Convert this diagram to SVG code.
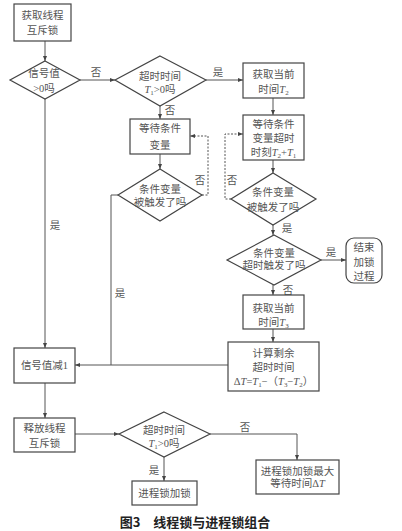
<svg xmlns="http://www.w3.org/2000/svg" width="402" height="531" viewBox="0 0 402 531">
<style>
.b{fill:#fff;stroke:#444;stroke-width:1.2}
.t{font-family:"Liberation Serif","Noto Sans CJK SC",serif;font-size:10.5px;fill:#555;text-anchor:middle}
.l{fill:none;stroke:#555;stroke-width:1}
.d{fill:none;stroke:#555;stroke-width:1;stroke-dasharray:2,1.5}
.i{font-style:italic}
.s{font-size:7px}
.cap{font-family:"Noto Sans CJK SC",sans-serif;font-size:13px;fill:#222;font-weight:bold;text-anchor:middle}
</style>
<defs>
<marker id="a" markerWidth="6" markerHeight="6" refX="5" refY="3" orient="auto" markerUnits="userSpaceOnUse">
<path d="M0,1 L5,3 L0,5 Z" fill="#444"/>
</marker>
</defs>
<rect width="402" height="531" fill="#fff"/>
<g id="connectors">
<line class="l" x1="45" y1="41" x2="45" y2="61" marker-end="url(#a)"/>
<line class="l" x1="80" y1="80" x2="115" y2="80" marker-end="url(#a)"/>
<line class="l" x1="206" y1="80" x2="243" y2="80" marker-end="url(#a)"/>
<line class="l" x1="273" y1="98" x2="273" y2="115" marker-end="url(#a)"/>
<line class="l" x1="160" y1="106" x2="160" y2="119" marker-end="url(#a)"/>
<line class="l" x1="160" y1="154" x2="160" y2="169" marker-end="url(#a)"/>
<polyline class="d" points="202,195 208,195 208,136 190,136" marker-end="url(#a)"/>
<polyline class="l" points="118,195 111,195 111,365"/>
<polyline class="d" points="231,199 225,199 225,134 243,134" marker-end="url(#a)"/>
<line class="l" x1="273" y1="160" x2="273" y2="173" marker-end="url(#a)"/>
<line class="l" x1="273" y1="225" x2="273" y2="235" marker-end="url(#a)"/>
<line class="l" x1="321" y1="260" x2="346" y2="260" marker-end="url(#a)"/>
<line class="l" x1="273" y1="285" x2="273" y2="295" marker-end="url(#a)"/>
<line class="l" x1="273" y1="329" x2="273" y2="342" marker-end="url(#a)"/>
<line class="l" x1="228" y1="365" x2="75" y2="365" marker-end="url(#a)"/>
<line class="l" x1="45" y1="99" x2="45" y2="348" marker-end="url(#a)"/>
<line class="l" x1="45" y1="383" x2="45" y2="418" marker-end="url(#a)"/>
<line class="l" x1="75" y1="434" x2="119" y2="434" marker-end="url(#a)"/>
<line class="l" x1="164" y1="457" x2="164" y2="481" marker-end="url(#a)"/>
<polyline class="l" points="210,434 297,434 297,460" marker-end="url(#a)"/>
<text class="t" x="96" y="76">否</text>
<text class="t" x="218" y="76">是</text>
<text class="t" x="170" y="114">否</text>
<text class="t" x="200" y="184">否</text>
<text class="t" x="232" y="184">否</text>
<text class="t" x="120" y="297">是</text>
<text class="t" x="287" y="232">是</text>
<text class="t" x="331" y="256">是</text>
<text class="t" x="288" y="294">否</text>
<text class="t" x="55" y="229">是</text>
<text class="t" x="154" y="474">是</text>
<text class="t" x="245" y="431">否</text>
</g>
<g id="n1"><rect class="b" x="14" y="4" width="57" height="37"/><text class="t" x="42.5" y="19">获取线程</text><text class="t" x="42.5" y="34">互斥锁</text></g>
<g id="d1"><polygon class="b" points="45,61 80,80 45,99 10,80"/><text class="t" x="44" y="77">信号值</text><text class="t" x="44" y="92">&gt;0吗</text></g>
<g id="d2"><polygon class="b" points="160,56 206,80 160,106 115,80"/><text class="t" x="160" y="80">超时时间</text><text class="t" x="160" y="93"><tspan class="i">T</tspan><tspan class="s" dy="2">1</tspan><tspan dy="-2">&gt;0吗</tspan></text></g>
<g id="n2"><rect class="b" x="243" y="63" width="61" height="35"/><text class="t" x="273.5" y="78">获取当前</text><text class="t" x="273.5" y="93">时间<tspan class="i">T</tspan><tspan class="s" dy="2">2</tspan></text></g>
<g id="n3"><rect class="b" x="243" y="115" width="61" height="45"/><text class="t" x="273.5" y="128">等待条件</text><text class="t" x="273.5" y="142">变量超时</text><text class="t" x="273.5" y="156">时刻<tspan class="i">T</tspan><tspan class="s" dy="2">2</tspan><tspan dy="-2">+</tspan><tspan class="i">T</tspan><tspan class="s" dy="2">1</tspan></text></g>
<g id="n4"><rect class="b" x="130" y="119" width="60" height="35"/><text class="t" x="160" y="132">等待条件</text><text class="t" x="160" y="149">变量</text></g>
<g id="d3"><polygon class="b" points="160,169 202,195 160,221 118,195"/><text class="t" x="160" y="193">条件变量</text><text class="t" x="160" y="206">被触发了吗</text></g>
<g id="d4"><polygon class="b" points="273,173 316,199 273,225 231,199"/><text class="t" x="273" y="196">条件变量</text><text class="t" x="273" y="211">被触发了吗</text></g>
<g id="d5"><polygon class="b" points="274,235 321,260 274,285 227,260"/><text class="t" x="274" y="257">条件变量</text><text class="t" x="274" y="269">超时触发了吗</text></g>
<g id="n5"><rect class="b" x="346" y="238" width="36" height="45" rx="8"/><text class="t" x="364" y="251">结束</text><text class="t" x="364" y="266">加锁</text><text class="t" x="364" y="280">过程</text></g>
<g id="n6"><rect class="b" x="243" y="295" width="61" height="34"/><text class="t" x="273.5" y="312">获取当前</text><text class="t" x="273.5" y="326">时间<tspan class="i">T</tspan><tspan class="s" dy="2">3</tspan></text></g>
<g id="n7"><rect class="b" x="228" y="342" width="91" height="49"/><text class="t" x="273.5" y="357">计算剩余</text><text class="t" x="273.5" y="371">超时时间</text><text class="t" x="273.5" y="385">Δ<tspan class="i">T</tspan>=<tspan class="i">T</tspan><tspan class="s" dy="2">1</tspan><tspan dy="-2">−（</tspan><tspan class="i">T</tspan><tspan class="s" dy="2">3</tspan><tspan dy="-2">−</tspan><tspan class="i">T</tspan><tspan class="s" dy="2">2</tspan><tspan dy="-2">）</tspan></text></g>
<g id="n8"><rect class="b" x="14" y="348" width="61" height="35"/><text class="t" x="44.5" y="369">信号值减1</text></g>
<g id="n9"><rect class="b" x="14" y="418" width="61" height="34"/><text class="t" x="44.5" y="432">释放线程</text><text class="t" x="44.5" y="447">互斥锁</text></g>
<g id="d6"><polygon class="b" points="164,412 210,434 164,457 119,434"/><text class="t" x="164" y="434">超时时间</text><text class="t" x="164" y="447"><tspan class="i">T</tspan><tspan class="s" dy="2">1</tspan><tspan dy="-2">&gt;0吗</tspan></text></g>
<g id="n10"><rect class="b" x="132" y="481" width="65" height="24"/><text class="t" x="164.5" y="497">进程锁加锁</text></g>
<g id="n11"><rect class="b" x="256" y="460" width="83" height="34"/><text class="t" x="297.5" y="475">进程锁加锁最大</text><text class="t" x="297.5" y="487">等待时间Δ<tspan class="i">T</tspan></text></g>
<text class="cap" x="195" y="527">图3　线程锁与进程锁组合</text>
</svg>
